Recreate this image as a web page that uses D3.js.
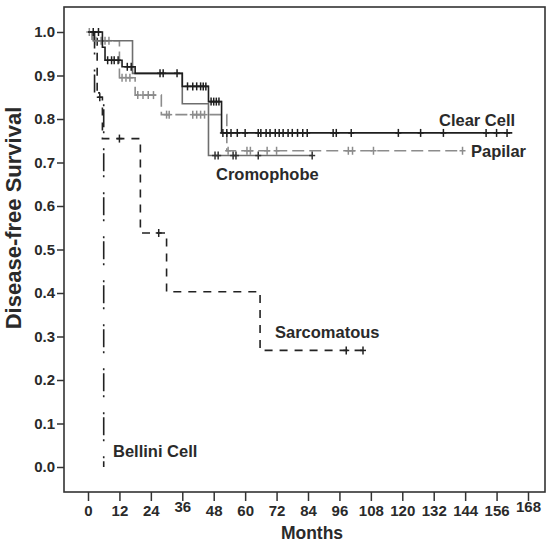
<!DOCTYPE html>
<html>
<head>
<meta charset="utf-8">
<script src="https://cdn.jsdelivr.net/npm/d3@7"></script>
<style>
  html, body { margin: 0; padding: 0; background: #fff; }
  svg text { font-family: "Liberation Sans", Arial, sans-serif; font-weight: bold; fill: #2a2a2a; }
</style>
</head>
<body>
<svg id="chart" width="551" height="547"></svg>
<script>
// ---- data ----
const xTicks = [0, 12, 24, 36, 48, 60, 72, 84, 96, 108, 120, 132, 144, 156, 168];
const yTicks = [0.0, 0.1, 0.2, 0.3, 0.4, 0.5, 0.6, 0.7, 0.8, 0.9, 1.0];

const clearTimes = [0, 5.5, 6.5, 13, 18, 36, 46, 51];
const clearSurv  = [1.0, 0.965, 0.935, 0.92, 0.905, 0.875, 0.84, 0.768];
const clearEnd = 162;
const clearCensor = [2, 4, 7.5, 9, 10, 11.5, 15, 16.5, 27.5, 28.7, 34, 38, 40, 41.5, 43, 44, 45, 47, 48, 49, 50,
  51.5, 53, 54.6, 57, 60, 65, 66, 68, 69.5, 71.5, 73, 74.5, 76.4, 78, 80, 82, 83.7,
  93.6, 94.8, 100.5, 118.5, 127, 135.7, 152, 156, 160];

const papTimes = [0, 1.5, 12, 18, 28, 53];
const papSurv  = [1.0, 0.98, 0.895, 0.855, 0.81, 0.727];
const papEnd = 143;
const papCensor = [0.5, 3, 5, 6.5, 8, 13, 14.5, 16, 19, 21, 23, 25, 30, 31, 40, 41.5, 43, 44.5,
  53.5, 60.7, 62, 68.4, 72, 99.4, 101, 109, 143];

const cromTimes = [0, 2, 17, 36, 46];
const cromSurv  = [1.0, 0.98, 0.905, 0.835, 0.716];
const cromEnd = 85.6;
const cromCensor = [48.5, 49.7, 55.4, 56.5, 65, 85.6];

const sarcTimes = [0, 3.5, 5.5, 20, 30, 65.7];
const sarcSurv  = [1.0, 0.85, 0.755, 0.538, 0.403, 0.268];
const sarcEnd = 106.6;
const sarcCensor = [4.5, 12, 27, 98.6, 105];

const bellTimes = [0, 2.5, 6];
const bellSurv  = [1.0, 0.86, 0.0];
const bellEnd = 6;
const bellCensor = [];

const labelTexts = ["Clear Cell", "Papilar", "Cromophobe", "Sarcomatous", "Bellini Cell"];

// ---- layout ----
const svg = d3.select("#chart");
const frame = { left: 64, right: 545, top: 7, bottom: 492 };
const x = d3.scaleLinear().domain([0, 168]).range([88, 528]);
const y = d3.scaleLinear().domain([0, 1]).range([467, 32]);

svg.append("rect")
  .attr("x", frame.left).attr("y", frame.top)
  .attr("width", frame.right - frame.left).attr("height", frame.bottom - frame.top)
  .attr("fill", "none").attr("stroke", "#333").attr("stroke-width", 1.6);

const yAxis = svg.append("g").attr("transform", `translate(${frame.left},0)`)
  .call(d3.axisLeft(y).tickValues(yTicks).tickFormat(d3.format(".1f")).tickSize(7).tickPadding(2));
const xAxis = svg.append("g").attr("transform", `translate(0,${frame.bottom})`)
  .call(d3.axisBottom(x).tickValues(xTicks).tickSize(9).tickPadding(4));
[yAxis, xAxis].forEach(g => {
  g.select(".domain").remove();
  g.selectAll(".tick line").attr("stroke", "#333").attr("stroke-width", 1.5);
  g.selectAll(".tick text").attr("font-size", 15).attr("fill", "#2a2a2a")
    .style("font-family", '"Liberation Sans", Arial, sans-serif').style("font-weight", "bold");
});
// two labels sit slightly higher in the original
xAxis.selectAll(".tick").filter(d => d === 36 || d === 168).select("text").attr("dy", "0.45em");

svg.append("text").attr("x", 312).attr("y", 539).attr("text-anchor", "middle")
  .attr("font-size", 17.5).text("Months");
svg.append("text").attr("transform", "translate(21,218) rotate(-90)").attr("text-anchor", "middle")
  .attr("font-size", 22).text("Disease-free Survival");

// ---- curves ----
const line = d3.line().x(d => x(d[0])).y(d => y(d[1])).curve(d3.curveStepAfter);
function stepVal(times, surv, t) {
  let v = surv[0];
  for (let i = 0; i < times.length; i++) if (times[i] <= t) v = surv[i];
  return v;
}
const series = [
  { times: bellTimes, surv: bellSurv, end: bellEnd, censor: bellCensor, color: "#222", dash: "2,3,18,4,2,15", cc: "#222" },
  { times: sarcTimes, surv: sarcSurv, end: sarcEnd, censor: sarcCensor, color: "#222", dash: "8,7", cc: "#222" },
  { times: papTimes, surv: papSurv, end: papEnd, censor: papCensor, color: "#8c8c8c", dash: "12,5", cc: "#8c8c8c" },
  { times: cromTimes, surv: cromSurv, end: cromEnd, censor: cromCensor, color: "#6e6e6e", dash: null, cc: "#333" },
  { times: clearTimes, surv: clearSurv, end: clearEnd, censor: clearCensor, color: "#1e1e1e", dash: null, cc: "#1e1e1e" }
];
series.forEach(sr => {
  const pts = sr.times.map((t, i) => [t, sr.surv[i]]);
  pts.push([sr.end, sr.surv[sr.surv.length - 1]]);
  svg.append("path").attr("d", line(pts)).attr("fill", "none")
    .attr("stroke", sr.color).attr("stroke-width", 1.6)
    .attr("stroke-dasharray", sr.dash);
  const g = svg.append("g").attr("stroke", sr.cc).attr("stroke-width", 1.5);
  sr.censor.forEach(t => {
    const cx = x(t), cy = y(stepVal(sr.times, sr.surv, t));
    g.append("line").attr("x1", cx).attr("x2", cx).attr("y1", cy - 4).attr("y2", cy + 4);
    g.append("line").attr("x1", cx - 3).attr("x2", cx + 3).attr("y1", cy).attr("y2", cy);
  });
});

// ---- labels ----
const lblPos = [
  { dx: 439, dy: 126 }, { dx: 471, dy: 157 }, { dx: 216, dy: 180 }, { dx: 275, dy: 338 }, { dx: 113, dy: 457 }
];
labelTexts.forEach((txt, i) => {
  svg.append("text").attr("x", lblPos[i].dx).attr("y", lblPos[i].dy)
    .attr("font-size", 16.5).text(txt);
});
</script>
</body>
</html>
